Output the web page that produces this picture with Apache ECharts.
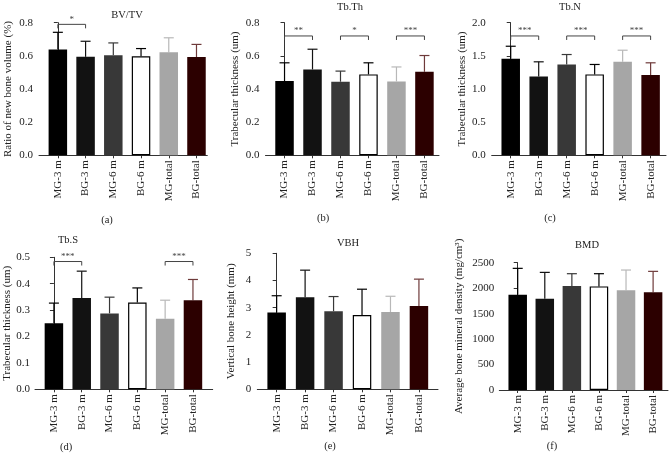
<!DOCTYPE html>
<html><head><meta charset="utf-8">
<script src="https://cdn.jsdelivr.net/npm/echarts@6/dist/echarts.min.js"></script>
<style>html,body{margin:0;padding:0;background:#fff}#c{width:672px;height:460px}</style>
</head><body><div id="c"></div>
<script>
// ---- data ----
const categories = ['MG-3 m','BG-3 m','MG-6 m','BG-6 m','MG-total','BG-total'];
const bvtvMean  = [0.639,0.594,0.604,0.597,0.621,0.593];
const bvtvUpper = [0.742,0.688,0.678,0.644,0.709,0.669];
const tbthMean  = [0.448,0.518,0.444,0.488,0.446,0.504];
const tbthUpper = [0.558,0.640,0.508,0.558,0.533,0.602];
const tbnMean   = [1.455,1.19,1.37,1.22,1.41,1.21];
const tbnUpper  = [1.645,1.41,1.52,1.37,1.585,1.395];
const tbsMean   = [0.250,0.346,0.2875,0.329,0.2675,0.3375];
const tbsUpper  = [0.3265,0.4475,0.349,0.384,0.3375,0.416];
const vbhMean   = [2.82,3.38,2.87,2.73,2.84,3.06];
const vbhUpper  = [3.44,4.38,3.41,3.68,3.42,4.05];
const bmdMean   = [1872,1793,2040,2035,1957,1918];
const bmdUpper  = [2389,2310,2284,2284,2356,2330];
// significance brackets: [fromIndex, toIndex, label]
const sigA = [[0,1,'*']];
const sigB = [[0,1,'**'],[2,3,'*'],[4,5,'***']];
const sigC = [[0,1,'***'],[2,3,'***'],[4,5,'***']];
const sigD = [[0,1,'***'],[4,5,'***']];
const sigLevelA = 0.79, sigLevelB = 0.72, sigLevelC = 1.80, sigLevelD = 0.484;
const yTicksA = [0,0.8,0.2], yTicksB = [0,0.8,0.2], yTicksC = [0,2,0.5], yTicksD = [0,0.5,0.1], yTicksE = [0,5,1], yTicksF = [0,2500,500];

// ---- styles ----
const FONT = 'Liberation Serif';
const barColors = ['#000000','#121212','#383838','#ffffff','#a6a6a6','#2c0000'];
const barBorders = ['#000000','#121212','#383838','#000000','#a6a6a6','#2c0000'];
const errColors = ['#000000','#121212','#383838','#000000','#b8b8b8','#6e3a3a'];

const panels = [
  {title:'BV/TV', tx:127, ty:15, sub:'(a)', sx:107, sy:220, mean:bvtvMean, up:bvtvUpper, ticks:yTicksA, dec:1,
   name:'Ratio of new bone volume (%)', gap:25, lm:6, grid:{left:39, top:22.7, width:168.3, height:132.6}, xmax:5.39, sig:sigA, lvl:sigLevelA},
  {title:'Tb.Th', tx:350, ty:7, sub:'(b)', sx:323, sy:218, mean:tbthMean, up:tbthUpper, ticks:yTicksB, dec:1,
   name:'Trabecular thickness (um)', gap:24.5, lm:6, grid:{left:265.5, top:22.7, width:173.5, height:132.6}, xmax:5.52, sig:sigB, lvl:sigLevelB},
  {title:'Tb.N', tx:570, ty:7, sub:'(c)', sx:550, sy:218.5, mean:tbnMean, up:tbnUpper, ticks:yTicksC, dec:1,
   name:'Trabecular thickness (um)', gap:24.5, lm:6, grid:{left:491.7, top:22.7, width:174.3, height:132.6}, xmax:5.55, sig:sigC, lvl:sigLevelC},
  {title:'Tb.S', tx:68, ty:240, sub:'(d)', sx:66, sy:447, mean:tbsMean, up:tbsUpper, ticks:yTicksD, dec:1,
   name:'Trabecular thickness (um)', gap:21.5, lm:5, grid:{left:35, top:257.3, width:177.7, height:132}, xmax:5.71, sig:sigD, lvl:sigLevelD},
  {title:'VBH', tx:348, ty:243, sub:'(e)', sx:330, sy:446, mean:vbhMean, up:vbhUpper, ticks:yTicksE, dec:0,
   name:'Vertical bone height (mm)', gap:20.5, lm:6, grid:{left:257.3, top:253.3, width:180.7, height:136}, xmax:5.67, sig:[], lvl:0},
  {title:'BMD', tx:587, ty:245, sub:'(f)', sx:552, sy:446, mean:bmdMean, up:bmdUpper, ticks:yTicksF, dec:0,
   name:'Average bone mineral density (mg/cm³)', gap:34.5, lm:5, grid:{left:499.3, top:262.7, width:168.7, height:127.3}, xmax:5.55, sig:[], lvl:0}
];

const grids = [], xAxes = [], yAxes = [], series = [], graphics = [];
const idx = categories.map((c,i)=>i);
panels.forEach((p, k) => {
  grids.push(Object.assign({containLabel:false}, p.grid));
  xAxes.push({
    type:'value', gridIndex:k, min:-0.68, max:p.xmax,
    splitLine:{show:false},
    axisLine:{show:true, onZero:false, lineStyle:{color:'#333', width:1}},
    axisTick:{show:true, customValues:idx, length:3, lineStyle:{color:'#333'}},
    axisLabel:{show:true, customValues:idx, rotate:90, margin:5, fontSize:11, color:'#222', fontFamily:FONT,
      formatter:(v)=>categories[Math.round(v)]}
  });
  yAxes.push({
    type:'value', gridIndex:k, min:p.ticks[0], max:p.ticks[1], interval:p.ticks[2],
    splitLine:{show:false},
    axisLine:{show:true, lineStyle:{color:'#333', width:1}},
    axisTick:{show:true, length:4, lineStyle:{color:'#333'}},
    axisLabel:{fontSize:11, color:'#222', margin:p.lm, fontFamily:FONT, formatter:(v)=>v.toFixed(p.dec)},
    name:p.name, nameLocation:'middle', nameGap:p.gap,
    nameTextStyle:{fontSize:11, color:'#222', fontFamily:FONT}
  });
  // error bars (drawn first, behind bars)
  series.push({
    type:'custom', xAxisIndex:k, yAxisIndex:k, clip:false, z:1,
    data: idx.map(i => [i, p.mean[i], p.up[i]]),
    encode:{x:0, y:[1,2]},
    renderItem:(params, api) => {
      const x = api.value(0);
      const a = api.coord([x, api.value(1)]);
      const b = api.coord([x, api.value(2)]);
      const col = errColors[params.dataIndex];
      const hw = 5;
      return {type:'group', children:[
        {type:'line', shape:{x1:a[0], y1:a[1], x2:b[0], y2:b[1]}, style:{stroke:col, lineWidth:1.2}},
        {type:'line', shape:{x1:b[0]-hw, y1:b[1], x2:b[0]+hw, y2:b[1]}, style:{stroke:col, lineWidth:1.2}}
      ]};
    }
  });
  series.push({
    type:'bar', xAxisIndex:k, yAxisIndex:k, barWidth:18.5, z:2,
    data: idx.map(i => ({value:[i, p.mean[i]], itemStyle:{color:barColors[i], borderColor:barBorders[i], borderWidth: i===3?1.2:0}}))
  });
  if (p.sig.length) {
    const sig = p.sig;
    series.push({
      type:'custom', xAxisIndex:k, yAxisIndex:k, clip:false, z:3,
      data: sig.map(s => [s[0], s[1], p.lvl]),
      encode:{x:[0,1], y:2},
      renderItem:(params, api) => {
        const a = api.coord([api.value(0), api.value(2)]);
        const b = api.coord([api.value(1), api.value(2)]);
        const d = 4;
        return {type:'group', children:[
          {type:'polyline', shape:{points:[[a[0],a[1]+d],[a[0],a[1]],[b[0],b[1]],[b[0],b[1]+d]]}, style:{stroke:'#444', lineWidth:1, fill:null}},
          {type:'text', x:(a[0]+b[0])/2, y:a[1]-5, style:{text:sig[params.dataIndex][2], fill:'#444', font:'9px "'+FONT+'"', align:'center', verticalAlign:'middle'}}
        ]};
      }
    });
  }
  graphics.push({type:'text', x:p.tx, y:p.ty, style:{text:p.title, fill:'#222', font:'10.5px "'+FONT+'"', align:'center', verticalAlign:'middle'}});
  graphics.push({type:'text', x:p.sx, y:p.sy, style:{text:p.sub, fill:'#222', font:'10.5px "'+FONT+'"', align:'center', verticalAlign:'middle'}});
});

const chart = echarts.init(document.getElementById('c'), null, {renderer:'canvas'});
chart.setOption({
  backgroundColor:'#ffffff',
  animation:false,
  textStyle:{fontFamily:FONT},
  grid:grids, xAxis:xAxes, yAxis:yAxes, series:series, graphic:graphics
});
</script>
</body></html>
